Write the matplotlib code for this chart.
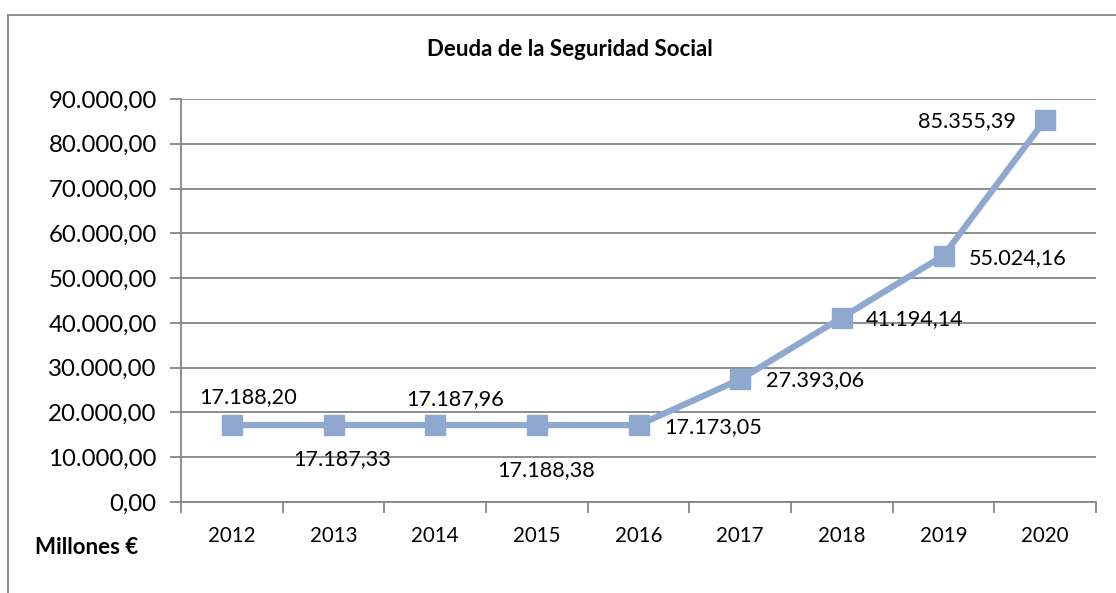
import matplotlib
matplotlib.use("Agg")
import matplotlib.pyplot as plt
from matplotlib.lines import Line2D

plt.rcParams['font.family'] = ['Lato', 'DejaVu Sans']

# Deuda de la Seguridad Social (millones de euros)
years = ['2012', '2013', '2014', '2015', '2016', '2017', '2018', '2019', '2020']
deuda = [17188.20, 17187.33, 17187.96, 17188.38, 17173.05, 27393.06, 41194.14, 55024.16, 85355.39]
etiquetas = ['17.188,20', '17.187,33', '17.187,96', '17.188,38', '17.173,05',
             '27.393,06', '41.194,14', '55.024,16', '85.355,39']
y_ticks = [0, 10000, 20000, 30000, 40000, 50000, 60000, 70000, 80000, 90000]

line_color = '#8EA8D0'
grid_color = '#868686'

fig = plt.figure(figsize=(11.16, 5.93), dpi=100)
ax = fig.add_axes([181/1116, 1 - 502/593, (1096-181)/1116, (502-99)/593])

x = list(range(len(years)))
ax.plot(x, deuda, color=line_color, lw=4.5, marker='s', ms=14,
        mfc=line_color, mec=line_color, zorder=3)

ax.set_xlim(-0.5, len(years) - 0.5)
ax.set_ylim(0, 90000)
ax.set_yticks(y_ticks)
ax.set_yticklabels([f"{v:,.2f}".replace(',', 'X').replace('.', ',').replace('X', '.') for v in y_ticks],
                   fontsize=17.3)
ax.yaxis.grid(True, color=grid_color, lw=1.3)
ax.set_axisbelow(True)
ax.tick_params(axis='y', length=8, width=1.3, color=grid_color, pad=9.5)

# categorías con marcas en los límites
ax.set_xticks(x)
ax.set_xticklabels(years, fontsize=14.8)
ax.tick_params(axis='x', length=0, pad=17.5)
ax.set_xticks([i - 0.5 for i in range(len(years) + 1)], minor=True)
ax.tick_params(axis='x', which='minor', length=8, width=1.3, color=grid_color)

for s in ['top', 'right']:
    ax.spines[s].set_visible(False)
for s in ['left', 'bottom']:
    ax.spines[s].set_color(grid_color)
    ax.spines[s].set_linewidth(1.3)

# posiciones de las etiquetas (px)
offsets = [(16, 28), (9, -34), (20, 26), (9, -45), (26, -2),
           (26, -1), (24, -2), (25, -2), (-29, -1)]
aligns = ['center', 'center', 'center', 'center', 'left', 'left', 'left', 'left', 'right']
for xi, yi, lab, (dx, dy), ha in zip(x, deuda, etiquetas, offsets, aligns):
    ax.annotate(lab, (xi, yi), xytext=(dx * 0.72, dy * 0.72), textcoords='offset points',
                ha=ha, va='center', fontsize=15.6, zorder=4)

fig.text(570/1116, 1 - 50/593, 'Deuda de la Seguridad Social', ha='center', va='center',
         fontsize=16, fontweight='bold')
fig.text(35/1116, 1 - 548/593, 'Millones €', ha='left', va='center',
         fontsize=16, fontweight='bold')

# marco del gráfico
fig.add_artist(Line2D([8/1116, 8/1116], [0, 1 - 15/593], transform=fig.transFigure,
                      color=grid_color, lw=1.3))
fig.add_artist(Line2D([8/1116, 1], [1 - 15/593, 1 - 15/593], transform=fig.transFigure,
                      color=grid_color, lw=1.3))

fig.savefig('out.png', dpi=100)
